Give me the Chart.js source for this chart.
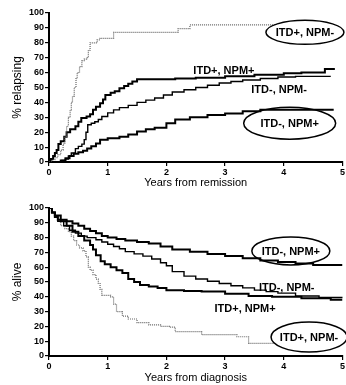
<!DOCTYPE html>
<html>
<head>
<meta charset="utf-8">
<script src="https://cdn.jsdelivr.net/npm/chart.js@4"></script>
<style>
  body { margin: 0; background: #fff; }
  canvas { display: block; }
</style>
</head>
<body>
<canvas id="relapseChart" width="346" height="190"></canvas>
<canvas id="survivalChart" width="346" height="195"></canvas>
<script>
// --- top panel: % relapsing vs years from remission ---
const relPosNegT = [0, 0.05, 0.1, 0.15, 0.2, 0.24, 0.27, 0.3, 0.33, 0.36, 0.38, 0.4, 0.43, 0.46, 0.48, 0.52, 0.56, 0.6, 0.64, 0.67, 0.7, 0.76, 0.82, 0.87, 1.1, 2.2, 2.4, 4.85];
const relPosNegV = [0, 1.5, 3, 5, 8, 12, 17, 24, 30, 35, 40, 44, 50, 56, 60, 64, 68, 69, 70, 75, 80, 80, 82, 83, 87, 89.5, 92, 92];

const relPosPosT = [0, 0.03, 0.07, 0.1, 0.13, 0.16, 0.2, 0.26, 0.3, 0.36, 0.45, 0.5, 0.55, 0.64, 0.7, 0.75, 0.8, 0.87, 0.92, 0.96, 1.05, 1.12, 1.2, 1.28, 1.35, 1.42, 1.5, 2.15, 2.5, 3.0, 3.5, 4.0, 4.3, 4.7, 4.87];
const relPosPosV = [0, 2, 4, 6, 8, 12, 14, 17, 20, 22, 24, 27, 29.5, 30.5, 32, 35, 37, 39.5, 42, 45, 46.5, 47.5, 49.5, 51, 52.5, 54, 55.5, 56, 56.5, 57.5, 58.5, 59.5, 60, 62.5, 62.5];

const relNegNegT = [0, 0.22, 0.28, 0.33, 0.38, 0.45, 0.5, 0.56, 0.6, 0.63, 0.66, 0.72, 0.78, 0.84, 0.9, 1.0, 1.1, 1.2, 1.35, 1.5, 1.65, 1.8, 1.95, 2.1, 2.3, 2.5, 2.7, 2.9, 3.1, 3.3, 3.6, 3.9, 4.2, 4.8];
const relNegNegV = [0, 1, 2, 4, 6, 9, 10.5, 12, 15, 20, 25, 26, 27, 28.5, 30.5, 33, 35, 36.5, 38, 40, 41.5, 43, 45, 47, 48.5, 50, 51.5, 53, 54, 55, 56, 57, 57.5, 57.5];

const relNegPosT = [0, 0.2, 0.28, 0.35, 0.42, 0.5, 0.58, 0.65, 0.72, 0.8, 0.87, 1.0, 1.2, 1.35, 1.5, 1.65, 1.8, 2.0, 2.15, 2.4, 2.7, 3.0, 3.3, 3.6, 4.85];
const relNegPosV = [0, 1, 2.5, 4, 5.5, 6.5, 7.5, 9, 10.5, 12.5, 15, 16, 17, 18.5, 20.5, 22, 23, 26, 28.5, 30, 31.5, 32.5, 34, 35, 35];

// --- bottom panel: % alive vs years from diagnosis ---
const survNegPosT = [0, 0.05, 0.1, 0.15, 0.3, 0.4, 0.5, 0.6, 0.7, 0.8, 0.9, 1.0, 1.15, 1.3, 1.5, 1.7, 1.9, 2.1, 2.4, 2.7, 3.0, 3.3, 3.6, 3.9, 4.2, 4.5, 5.0];
const survNegPosV = [100, 97, 94, 92, 91, 89.5, 88, 86, 84.5, 83, 81, 80, 79, 78, 77, 76, 74, 72, 70.5, 69, 67.5, 66, 64.5, 63.5, 62.5, 61.5, 61.5];

const survNegNegT = [0, 0.05, 0.1, 0.15, 0.25, 0.35, 0.45, 0.55, 0.65, 0.8, 0.9, 1.0, 1.1, 1.2, 1.3, 1.45, 1.6, 1.75, 1.9, 2.0, 2.1, 2.3, 2.5, 2.7, 2.9, 3.1, 3.3, 3.5, 3.7, 3.9, 4.2, 4.6, 5.0];
const survNegNegV = [100, 97, 94, 91, 88, 85, 83, 81, 80, 78.5, 77, 75.5, 74, 72.5, 70.5, 69, 67.5, 65.5, 63, 61, 57, 54, 52, 50.5, 49, 47.5, 46, 44.5, 43.5, 42.5, 40.5, 39.5, 39];

const survPosPosT = [0, 0.05, 0.1, 0.2, 0.3, 0.4, 0.5, 0.6, 0.7, 0.75, 0.8, 0.88, 0.95, 1.05, 1.15, 1.25, 1.35, 1.45, 1.55, 1.7, 1.85, 2.0, 2.3, 2.6, 3.0, 3.4, 3.8, 4.3, 4.8, 5.0];
const survPosPosV = [100, 97, 95, 91, 88, 84, 81, 78, 75, 72, 68, 64, 62, 60, 58, 56, 52, 50, 48, 47, 46, 44.5, 44, 43.5, 42, 40.5, 40, 39, 38, 38];

const survPosNegT = [0, 0.05, 0.1, 0.15, 0.2, 0.27, 0.33, 0.38, 0.42, 0.47, 0.52, 0.58, 0.63, 0.67, 0.7, 0.75, 0.8, 0.84, 0.87, 0.9, 1.05, 1.1, 1.15, 1.25, 1.35, 1.5, 1.7, 1.9, 2.05, 2.15, 2.6, 3.2, 3.4, 4.95];
const survPosNegV = [100, 97, 94, 91, 88, 86, 84, 81, 78, 75, 73, 71, 67, 60, 58, 55, 52, 49, 45, 41, 40, 35, 30, 27, 25, 22.5, 21, 20, 19.5, 16.5, 14.5, 13, 8.5, 8.5];

const yearTicks = [0, 1, 2, 3, 4, 5];

// curve labels (years, percent), circled or not, and whether the ring hides the line
const relLabels = ['ITD+, NPM-', 'ITD+, NPM+', 'ITD-, NPM-', 'ITD-, NPM+'];
const relLabelX = [4.36, 2.98, 3.92, 4.1];
const relLabelY = [87, 61.5, 49, 26];
const relLabelRing = [true, false, false, true];
const relLabelFill = [true, false, false, false];

const survLabels = ['ITD-, NPM+', 'ITD-, NPM-', 'ITD+, NPM+', 'ITD+, NPM-'];
const survLabelX = [4.12, 4.05, 3.34, 4.43];
const survLabelY = [71, 46.6, 32.4, 12.8];
const survLabelRing = [true, false, false, true];
const survLabelFill = [false, false, false, true];

function pts(t, v) {
  return t.map((x, i) => ({ x: x, y: v[i] }));
}

function curve(t, v, kind) {
  const ds = {
    data: pts(t, v),
    stepped: true,
    pointRadius: 0,
    fill: false,
    borderColor: '#000',
    borderWidth: 2
  };
  if (kind == 'dot') {
    ds.borderColor = '#666';
    ds.borderWidth = 1.2;
    ds.borderDash = [1, 1];
  }
  if (kind == 'thin') {
    ds.borderWidth = 1.4;
  }
  return ds;
}

function labelPlugin(texts, xs, ys, rings, fills, sizes) {
  return {
    id: 'curveLabels',
    afterDatasetsDraw(chart) {
      const ctx = chart.ctx;
      const sx = chart.scales.x, sy = chart.scales.y;
      ctx.save();
      ctx.strokeStyle = '#000';
      ctx.font = 'bold 11px "Liberation Sans", Arial, sans-serif';
      ctx.textAlign = 'center';
      ctx.textBaseline = 'middle';
      texts.forEach((txt, i) => {
        const px = sx.getPixelForValue(xs[i]);
        const py = sy.getPixelForValue(ys[i]);
        if (rings[i]) {
          ctx.beginPath();
          ctx.ellipse(px, py, sizes[i][0], sizes[i][1], 0, 0, Math.PI * 2);
          if (fills[i]) {
            ctx.fillStyle = '#fff';
            ctx.fill();
          }
          ctx.lineWidth = 1.5;
          ctx.stroke();
        }
        ctx.fillStyle = '#000';
        ctx.fillText(txt, px, py + 1);
      });
      ctx.restore();
    }
  };
}

function makeOptions(xTitle, yTitle, padTop, xHeight) {
  return {
    responsive: false,
    animation: false,
    layout: { padding: { top: padTop, right: 2, left: 10, bottom: 0 } },
    plugins: { legend: { display: false }, tooltip: { enabled: false } },
    scales: {
      x: {
        type: 'linear',
        min: 0,
        max: 5,
        afterBuildTicks: (s) => { s.ticks = yearTicks.map(v => ({ value: v })); },
        afterFit: (s) => { s.height = xHeight; },
        grid: { drawOnChartArea: false, tickLength: 4, color: '#000', lineWidth: 1.2 },
        border: { color: '#000', width: 2 },
        ticks: { color: '#000', font: { size: 9, weight: 'bold', family: 'Liberation Sans' }, padding: 1 },
        title: { display: true, text: xTitle, color: '#000', font: { size: 11, family: 'Liberation Sans' }, padding: { top: 0, bottom: 0 } }
      },
      y: {
        min: 0,
        max: 100,
        afterFit: (s) => { s.width = 39; },
        grid: { drawOnChartArea: false, tickLength: 4, color: '#000', lineWidth: 1.2 },
        border: { color: '#000', width: 2 },
        ticks: { stepSize: 10, color: '#000', font: { size: 9, weight: 'bold', family: 'Liberation Sans' }, padding: 1 },
        title: { display: true, text: yTitle, color: '#000', font: { size: 12, family: 'Liberation Sans' }, padding: { top: 0, bottom: 2 } }
      }
    }
  };
}

const relapseChart = new Chart(document.getElementById('relapseChart'), {
  type: 'line',
  data: {
    datasets: [
      curve(relPosNegT, relPosNegV, 'dot'),
      curve(relPosPosT, relPosPosV, 'thick'),
      curve(relNegNegT, relNegNegV, 'thin'),
      curve(relNegPosT, relNegPosV, 'thick')
    ]
  },
  options: makeOptions('Years from remission', '% relapsing', 13, 28),
  plugins: [labelPlugin(relLabels, relLabelX, relLabelY, relLabelRing, relLabelFill, [[39, 12], [0, 0], [0, 0], [46, 16]])]
});

const survivalChart = new Chart(document.getElementById('survivalChart'), {
  type: 'line',
  data: {
    datasets: [
      curve(survNegPosT, survNegPosV, 'thick'),
      curve(survNegNegT, survNegNegV, 'thin'),
      curve(survPosPosT, survPosPosV, 'thick'),
      curve(survPosNegT, survPosNegV, 'dot')
    ]
  },
  options: makeOptions('Years from diagnosis', '% alive', 18, 29),
  plugins: [labelPlugin(survLabels, survLabelX, survLabelY, survLabelRing, survLabelFill, [[39, 14], [0, 0], [0, 0], [38, 15]])]
});
</script>
</body>
</html>
